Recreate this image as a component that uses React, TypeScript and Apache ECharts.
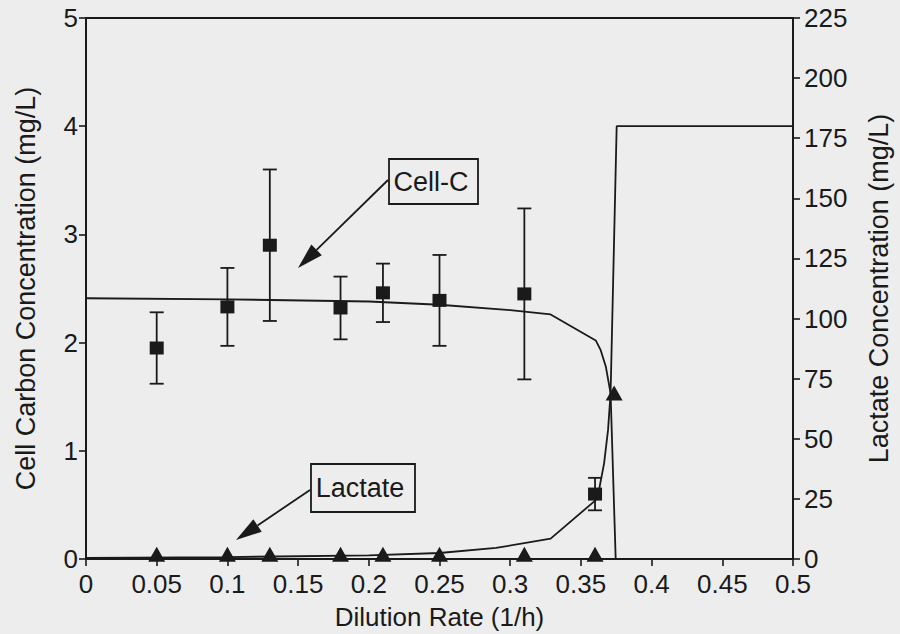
import React, { useEffect, useRef } from "react";
import * as echarts from "echarts";

// Measured cell carbon (mg/L) with standard deviations
const dilution = [0.05, 0.1, 0.13, 0.18, 0.21, 0.25, 0.31, 0.36];
const cellC = [1.95, 2.33, 2.9, 2.32, 2.46, 2.39, 2.45, 0.6];
const cellCErr = [0.33, 0.36, 0.7, 0.29, 0.27, 0.42, 0.79, 0.15];

// Measured lactate (mg/L)
const lactateD = [0.05, 0.1, 0.13, 0.18, 0.21, 0.25, 0.31, 0.36, 0.3735];
const lactate = [2, 2, 2, 2, 2, 2, 2, 2, 69];

// Model predictions
const cellModelD = [0, 0.1, 0.2, 0.25, 0.3, 0.3286, 0.3605, 0.364, 0.3676, 0.371, 0.3746];
const cellModel = [2.41, 2.4, 2.38, 2.35, 2.3, 2.26, 2.02, 1.93, 1.78, 1.53, 0];
const lactModelD = [0, 0.1, 0.2, 0.25, 0.29, 0.3286, 0.3605, 0.3628, 0.3664, 0.3692, 0.371, 0.3753, 0.5];
const lactModel = [0.5, 0.8, 1.5, 2.5, 4.6, 8.5, 24.5, 28.7, 39.8, 53.7, 69, 180, 180];

// Tick settings
const xTicks = { min: 0, max: 0.5, interval: 0.05 };
const leftTicks = { min: 0, max: 5, interval: 1 };
const rightTicks = { min: 0, max: 225, interval: 25 };

const INK = "#1a1a1a";
const FONT = "Liberation Sans";

function arrow(x1: number, y1: number, tx: number, ty: number, len: number, half: number) {
  const dx = x1 - tx;
  const dy = y1 - ty;
  const d = Math.hypot(dx, dy);
  const ux = dx / d;
  const uy = dy / d;
  const bx = tx + ux * len;
  const by = ty + uy * len;
  return [
    { type: "line", shape: { x1, y1, x2: bx, y2: by }, style: { stroke: INK, lineWidth: 1.8 } },
    {
      type: "polygon",
      shape: {
        points: [
          [tx, ty],
          [bx - uy * half, by + ux * half],
          [bx + uy * half, by - ux * half],
        ],
      },
      style: { fill: INK },
    },
  ];
}

export default function App() {
  const ref = useRef<HTMLDivElement>(null);

  useEffect(() => {
    if (!ref.current) return;
    const chart = echarts.init(ref.current, null, { renderer: "svg" });

    const axisLine = { show: true, lineStyle: { color: INK, width: 2 } };
    const axisTick = { show: true, length: 7, lineStyle: { color: INK, width: 1.6 } };
    const labelStyle = { color: INK, fontFamily: FONT, fontSize: 26 };
    const nameStyle = { color: INK, fontFamily: FONT, fontSize: 27 };

    chart.setOption({
      animation: false,
      backgroundColor: "#ededed",
      grid: {
        left: 86,
        right: 107,
        top: 18,
        bottom: 75,
        outerBoundsMode: "none",
        containLabel: false,
        show: true,
        borderColor: INK,
        borderWidth: 2,
        backgroundColor: "transparent",
      },
      xAxis: {
        type: "value",
        ...xTicks,
        name: "Dilution Rate (1/h)",
        nameLocation: "middle",
        nameGap: 45,
        nameTextStyle: { ...nameStyle, fontSize: 26 },
        axisLine,
        axisTick,
        splitLine: { show: false },
        axisLabel: {
          ...labelStyle,
          margin: 12,
          formatter: (v: number) => String(+v.toFixed(2)),
        },
      },
      yAxis: [
        {
          type: "value",
          ...leftTicks,
          position: "left",
          name: "Cell Carbon Concentration (mg/L)",
          nameLocation: "middle",
          nameGap: 47,
          nameTextStyle: nameStyle,
          axisLine,
          axisTick,
          splitLine: { show: false },
          axisLabel: { ...labelStyle, margin: 8 },
        },
        {
          type: "value",
          ...rightTicks,
          position: "right",
          name: "Lactate Concentration (mg/L)",
          nameLocation: "middle",
          nameGap: 72,
          nameTextStyle: nameStyle,
          axisLine,
          axisTick,
          splitLine: { show: false },
          axisLabel: { ...labelStyle, margin: 11 },
        },
      ],
      series: [
        {
          name: "Cell-C model",
          type: "line",
          yAxisIndex: 0,
          data: cellModelD.map((d, i) => [d, cellModel[i]]),
          showSymbol: false,
          symbol: "none",
          lineStyle: { color: INK, width: 1.8 },
          z: 2,
        },
        {
          name: "Lactate model",
          type: "line",
          yAxisIndex: 1,
          data: lactModelD.map((d, i) => [d, lactModel[i]]),
          showSymbol: false,
          symbol: "none",
          lineStyle: { color: INK, width: 1.8 },
          z: 2,
        },
        {
          name: "Cell-C error",
          type: "custom",
          yAxisIndex: 0,
          data: dilution.map((d, i) => [d, cellC[i] - cellCErr[i], cellC[i] + cellCErr[i]]),
          renderItem: (_params: any, api: any) => {
            const lo = api.coord([api.value(0), api.value(1)]);
            const hi = api.coord([api.value(0), api.value(2)]);
            const w = 7;
            const style = { stroke: INK, lineWidth: 1.8 };
            return {
              type: "group",
              children: [
                { type: "line", shape: { x1: lo[0], y1: lo[1], x2: hi[0], y2: hi[1] }, style },
                { type: "line", shape: { x1: lo[0] - w, y1: lo[1], x2: lo[0] + w, y2: lo[1] }, style },
                { type: "line", shape: { x1: hi[0] - w, y1: hi[1], x2: hi[0] + w, y2: hi[1] }, style },
              ],
            };
          },
          z: 3,
        },
        {
          name: "Cell-C",
          type: "scatter",
          yAxisIndex: 0,
          data: dilution.map((d, i) => [d, cellC[i]]),
          symbol: "rect",
          symbolSize: [14, 13],
          itemStyle: { color: INK, opacity: 1 },
          z: 4,
        },
        {
          name: "Lactate",
          type: "scatter",
          yAxisIndex: 1,
          data: lactateD.map((d, i) => [d, lactate[i]]),
          symbol: "triangle",
          symbolSize: [17, 15],
          itemStyle: { color: INK, opacity: 1 },
          z: 4,
        },
      ],
      graphic: [
        {
          type: "rect",
          shape: { x: 389, y: 159, width: 89, height: 45 },
          style: { fill: "none", stroke: INK, lineWidth: 1.8 },
        },
        {
          type: "text",
          x: 431,
          y: 182,
          style: {
            text: "Cell-C",
            font: `27px "${FONT}"`,
            fill: INK,
            textAlign: "center",
            textVerticalAlign: "middle",
          },
        },
        ...arrow(388, 180, 298, 268, 26, 7.5),
        {
          type: "rect",
          shape: { x: 311, y: 464, width: 104, height: 48 },
          style: { fill: "none", stroke: INK, lineWidth: 1.8 },
        },
        {
          type: "text",
          x: 360,
          y: 488,
          style: {
            text: "Lactate",
            font: `27px "${FONT}"`,
            fill: INK,
            textAlign: "center",
            textVerticalAlign: "middle",
          },
        },
        ...arrow(310, 490, 236, 540, 26, 7.5),
      ],
    });

    return () => chart.dispose();
  }, []);

  return (
    <div
      ref={ref}
      style={{ position: "fixed", left: 0, top: 0, width: 900, height: 634, background: "#ededed" }}
    />
  );
}
